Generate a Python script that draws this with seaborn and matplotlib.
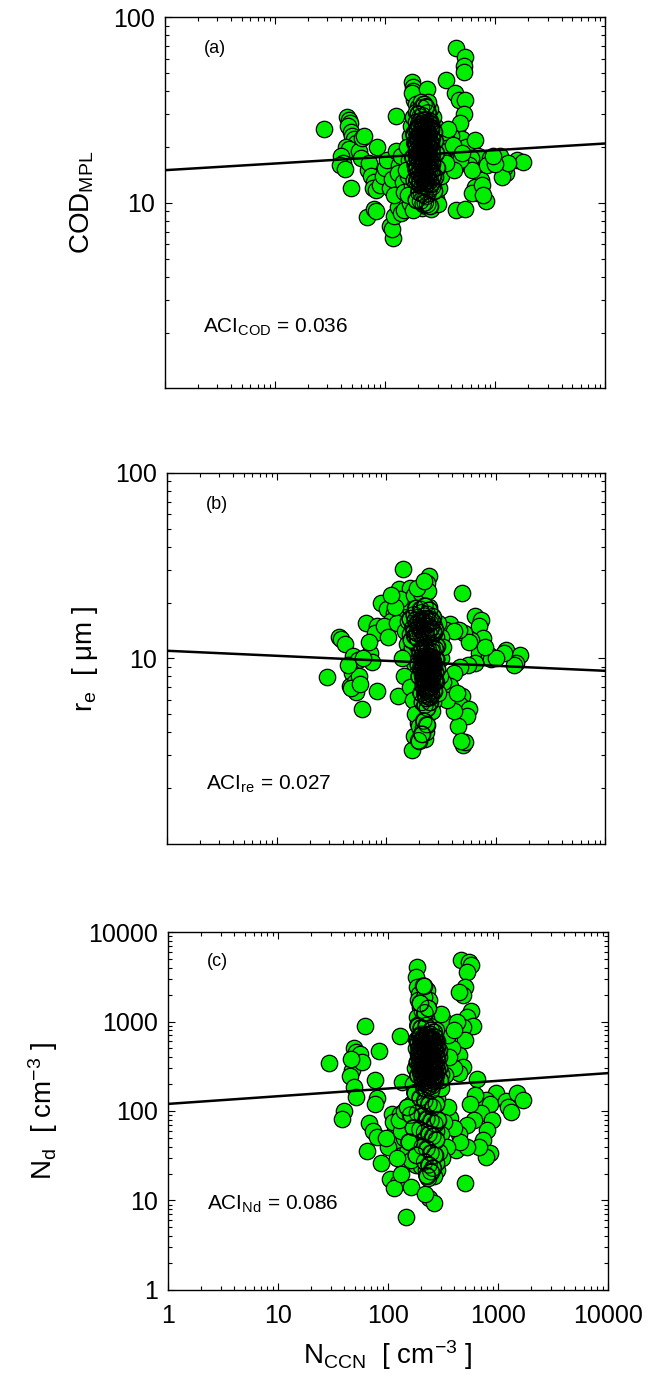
import numpy as np
import pandas as pd
import matplotlib
matplotlib.use("Agg")
import matplotlib.pyplot as plt
import matplotlib.ticker as mticker
import seaborn as sns

# (N_CCN, value) pairs
pts_cod = [
    (28, 25), (45, 29), (47, 28), (48, 27), (46, 26), (49, 24), (50, 23), (52, 22), (55, 21),
    (44, 20), (47, 19.5), (40, 18), (42, 16.5), (39, 16), (43, 15.3), (49, 12.1), (58, 19),
    (60, 17.5), (62, 22.5), (65, 23), (70, 15), (72, 16.5), (75, 14), (80, 13), (84, 20),
    (78, 12), (82, 11.8), (90, 12.5), (95, 14), (100, 15.5), (68, 8.4), (80, 9.3), (82, 9.0),
    (110, 7.5), (117, 6.5), (115, 7.2), (125, 29.5), (120, 8.5), (130, 9.5), (140, 8.8),
    (150, 9.2), (110, 12.0), (115, 13.5), (120, 11), (105, 17), (125, 19), (135, 16), (140, 18),
    (130, 14.5), (145, 13), (150, 11.5),
    (176, 45), (178, 42), (180, 40), (182, 38), (185, 36), (175, 39), (190, 34), (241, 41), (357, 46),
    (444, 68), (528, 61), (520, 55), (525, 51), (430, 39), (470, 36), (535, 36), (520, 30),
    (450, 25), (480, 27), (500, 22), (540, 20), (400, 23), (380, 21), (420, 19), (460, 17),
    (390, 16), (350, 15.5), (330, 18), (360, 20), (300, 24), (310, 22),
    (444, 9.1), (528, 9.3), (818, 10.2), (650, 21.7), (700, 17.8), (740, 13.3), (700, 11.3),
    (650, 12.2), (620, 11.3), (760, 12.5), (780, 11), (600, 17.5), (580, 16), (620, 15),
    (900, 17.5), (850, 16), (1110, 17.8), (1260, 14.4), (1580, 17.0), (1780, 16.7), (1200, 15.5),
    (1150, 13.8), (1300, 16.5), (1000, 16.3), (950, 18),
    (200, 33), (215, 31), (230, 30), (210, 28), (225, 27), (240, 28), (195, 26), (250, 25),
    (205, 24), (220, 24.5), (235, 23), (260, 23.5), (190, 22), (212, 22), (228, 21), (245, 21.5),
    (270, 22), (200, 20), (218, 19.5), (238, 20), (255, 19), (185, 19), (208, 18), (225, 18.5),
    (248, 17.5), (265, 18), (195, 17), (215, 16.5), (232, 16), (252, 16.2), (280, 16.5),
    (180, 15.5), (205, 15), (222, 14.5), (240, 15), (260, 14.2), (190, 13.8), (212, 13.2),
    (230, 13.5), (250, 12.8), (275, 13), (175, 12.5), (200, 12), (220, 11.8), (240, 11.5),
    (265, 11.2), (185, 11), (208, 10.6), (228, 10.4), (250, 10.2), (290, 10.5), (170, 10),
    (195, 9.8), (215, 9.4), (235, 9.6), (260, 9.3), (180, 9.2), (300, 9.8), (310, 12), (320, 14),
    (300, 17), (290, 20), (285, 26), (275, 29), (160, 14), (165, 17), (170, 20), (168, 23),
    (172, 26), (180, 29), (190, 31), (255, 32), (245, 35), (210, 35), (160, 11), (155, 15),
    (158, 20), (320, 19), (340, 24), (370, 25), (410, 20.5), (440, 16), (480, 17), (500, 18.5),
    (420, 15), (360, 16.5),
]
core_cod = [
    (205, 26), (215, 25), (225, 26), (235, 25.5), (245, 24), (198, 23), (210, 23.5), (222, 22.8),
    (232, 22), (242, 23), (252, 22.2), (202, 21.5), (214, 21), (226, 20.5), (236, 21.2),
    (248, 20.4), (206, 19.8), (216, 19), (228, 19.6), (240, 18.8), (250, 18.6), (198, 18.4),
    (212, 17.8), (222, 17.4), (234, 18), (244, 17.2), (256, 17.6), (204, 16.8), (218, 16.2),
    (228, 16.6), (238, 15.8), (248, 15.4), (260, 16), (196, 15.6), (210, 15.2), (220, 15.8),
    (232, 14.8), (244, 14.4), (254, 14.8), (200, 14.2), (214, 14), (226, 13.8), (236, 13),
    (246, 13.6), (258, 13.2), (206, 12.6), (218, 12.4), (230, 12.2), (242, 12.6), (252, 11.8),
    (202, 11.4), (214, 11.2), (226, 11), (236, 10.8), (246, 11.2), (210, 10.2), (222, 9.9),
    (232, 10.0), (244, 9.8), (256, 9.6), (190, 24.5), (186, 21), (192, 18), (188, 16), (194, 13),
    (262, 20.5), (268, 19.5), (272, 17), (266, 15), (270, 12.2), (208, 29), (220, 29.5),
    (232, 28), (244, 30.5), (214, 32.5), (226, 34), (236, 33), (200, 30.2), (255, 27.5),
    (262, 25.5), (278, 24), (284, 21.5), (290, 18.5), (296, 15.5), (286, 13.8), (280, 11.6),
    (192, 10.4), (184, 13.2), (178, 17.6), (182, 23.5),
    (193, 27.2), (201, 26.4), (209, 27.6), (217, 26.8), (227, 27.9), (239, 26.2), (249, 27.1),
    (259, 26.6), (195, 24.8), (203, 25.6), (211, 24.4), (219, 25.3), (229, 24.1), (241, 24.9),
    (251, 25.8), (263, 24.6), (197, 22.6), (205, 23.2), (213, 22.1), (221, 23.7), (231, 22.5),
    (243, 21.8), (253, 23.4), (265, 22.4), (191, 20.7), (199, 21.3), (207, 20.2), (219, 21.9),
    (229, 20.8), (239, 21.6), (251, 20.1), (261, 21.1), (193, 19.1), (203, 18.7), (211, 19.4),
    (223, 18.2), (233, 19.2), (245, 18.5), (255, 19.8), (267, 18.3), (195, 17.3), (205, 16.4),
    (215, 17.1), (225, 16.1), (235, 17.4), (247, 16.6), (257, 17.0), (269, 16.2), (191, 15.1),
    (201, 14.6), (209, 15.4), (219, 14.3), (231, 15.2), (241, 14.1), (251, 15.6), (263, 14.5),
    (197, 13.5), (207, 13.1), (217, 13.7), (229, 12.9), (239, 13.8), (249, 13.3), (261, 12.7),
    (271, 13.9),
]

pts_re = [
    (29, 7.9), (37.5, 13.0), (39, 12.7), (42, 12), (50, 10.3), (55, 9.8), (49, 8.4), (47, 7.1),
    (53, 6.6), (52, 7.5), (56, 8.0), (45, 9.2), (48, 6.9), (58, 7.3), (60, 5.35), (82, 6.7),
    (72, 10.7), (75, 9.6), (66, 15.6), (83, 14.9), (79, 13.8), (70, 12.3), (62, 10.0), (90, 20),
    (102, 18.5), (117, 17.6), (134, 18.8), (110, 16), (95, 15), (125, 15.5), (105, 13),
    (128, 6.3), (130, 23.6), (165, 24), (143, 30.5), (246, 27.9), (234, 25.6), (488, 22.4),
    (646, 17.0), (735, 16.2), (700, 14.9), (760, 12.9), (590, 12.5), (700, 10.7), (875, 10.4),
    (915, 9.96), (1245, 11.1), (1680, 10.5), (1540, 9.5), (1480, 9.2), (1190, 10.7), (518, 13.8),
    (568, 12.2), (380, 15.4), (460, 14.3), (350, 14.3), (420, 14.0), (300, 15.5), (320, 13),
    (1000, 10), (800, 11.5), (650, 9.5), (560, 9.2), (470, 9.0),
    (415, 8.4), (380, 7.1), (498, 6.3), (470, 5.6), (568, 5.35), (548, 4.9), (455, 4.3),
    (500, 3.4), (520, 3.55), (480, 3.6), (420, 5.2), (360, 6.0), (330, 7.5), (440, 6.5),
    (181, 3.8), (173, 3.2), (226, 3.7), (206, 4.0), (195, 4.5), (230, 4.8), (215, 5.2), (250, 5.5),
    (150, 14), (160, 16), (170, 18), (180, 19.5), (190, 17), (200, 20), (215, 18), (230, 16.5),
    (245, 19), (260, 17), (275, 15), (155, 12), (165, 13.5), (175, 15), (185, 14), (198, 15.5),
    (210, 13), (222, 14.5), (238, 13.5), (252, 14), (268, 12.5), (285, 13), (160, 10.5),
    (172, 11.5), (188, 12), (200, 11), (212, 11.8), (226, 10.8), (240, 11.5), (255, 10.5),
    (270, 11), (290, 10.2), (180, 9.5), (195, 9.8), (205, 9), (218, 9.5), (230, 8.8), (242, 9.2),
    (258, 8.5), (275, 9.0), (190, 8.2), (210, 8), (224, 7.8), (236, 8.2), (248, 7.6), (265, 7.8),
    (200, 7.2), (215, 7), (228, 6.8), (240, 7.1), (255, 6.6), (280, 7), (195, 6.3), (210, 6.0),
    (222, 6.2), (235, 5.9), (250, 6.1), (270, 5.8), (205, 5.5), (220, 5.3), (240, 5.0),
    (260, 5.2), (300, 6.5), (310, 8), (320, 10), (330, 11.5), (140, 10), (145, 8), (165, 7),
    (175, 6), (185, 5), (200, 4.3), (215, 4.2), (230, 4.0), (150, 20.5), (135, 21), (120, 19),
    (110, 22), (180, 22), (210, 22.5), (240, 23), (190, 24), (220, 26),
]
core_re = [
    (210, 10.2), (222, 10.0), (234, 10.4), (246, 9.9), (258, 10.1), (270, 9.7), (214, 9.6),
    (226, 9.4), (238, 9.7), (250, 9.3), (262, 9.5), (276, 9.2), (208, 9.0), (220, 8.9),
    (232, 9.1), (244, 8.7), (256, 8.9), (268, 8.6), (212, 8.5), (224, 8.3), (236, 8.6),
    (248, 8.2), (260, 8.4), (282, 8.3), (216, 7.9), (228, 7.7), (240, 8.0), (252, 7.6),
    (264, 7.9), (218, 7.4), (230, 7.2), (242, 7.5), (254, 7.1), (266, 7.3), (222, 6.9),
    (234, 6.7), (246, 7.0), (258, 6.6), (288, 9.9), (294, 8.8), (286, 7.5), (204, 10.8),
    (230, 11.2), (262, 11.4), (200, 8.0), (196, 9.3), (290, 11.6), (170, 12.6), (182, 13.2),
    (194, 12.8), (206, 13.6), (218, 12.9), (232, 13.3), (244, 12.7), (258, 13.1), (272, 13.7),
    (176, 14.6), (190, 15.2), (204, 14.4), (216, 15.6), (228, 14.9), (242, 15.3), (256, 14.6),
    (280, 14.3), (166, 16.4), (180, 17.2), (196, 16.6), (210, 17.6), (224, 16.9), (238, 17.3),
    (252, 16.3), (268, 16.8), (186, 18.6), (206, 18.4), (226, 19.2), (248, 18.2), (214, 5.8),
    (226, 5.6), (238, 5.4), (250, 5.8), (232, 6.3), (244, 6.2), (208, 6.5), (220, 4.6),
    (236, 4.4), (198, 3.6), (212, 3.9),
    (211, 11.3), (219, 10.7), (227, 11.5), (235, 10.9), (243, 11.2), (251, 10.6), (259, 11.0),
    (269, 10.8), (279, 11.3), (213, 10.0), (221, 9.7), (229, 10.1), (239, 9.5), (247, 10.3),
    (255, 9.6), (263, 10.2), (273, 9.4), (283, 9.9), (209, 8.8), (217, 9.2), (225, 8.6),
    (233, 9.3), (241, 8.9), (251, 9.1), (261, 8.7), (271, 9.2), (281, 8.5), (215, 8.1),
    (223, 7.6), (231, 8.3), (239, 7.8), (249, 8.4), (257, 7.7), (267, 8.1), (277, 7.6),
    (219, 7.1), (227, 7.3), (237, 6.8), (245, 7.4), (253, 6.9), (263, 7.0), (273, 6.7),
    (225, 6.4), (233, 6.1), (243, 6.5), (251, 6.2), (259, 6.4), (181, 14.1), (191, 13.7),
    (201, 14.9), (211, 14.1), (221, 13.4), (233, 14.2), (245, 13.9), (257, 14.4), (269, 14.0),
    (185, 16.1), (197, 15.8), (209, 16.2), (221, 15.9), (235, 16.4), (249, 15.7), (263, 15.9),
]

pts_nd = [
    (29, 345), (62, 885), (83, 466), (49, 500), (51, 460), (53, 400), (50, 345), (47, 290),
    (45, 245), (49, 186), (51, 145), (55, 430), (58, 350), (46, 380), (39.6, 100), (38, 81),
    (76, 220), (80, 140), (76, 120), (67, 74), (73, 59), (80, 51), (64, 36), (87, 26),
    (104, 17.6), (123, 15.6), (113, 13.7), (160, 14.3), (146, 6.6), (127, 684), (134, 210),
    (108, 93), (128, 93), (115, 60), (120, 45), (100, 40), (135, 32), (140, 25), (95, 50),
    (110, 75),
    (182, 4070), (180, 3150), (185, 2430), (190, 2050), (188, 1730), (195, 1460), (185, 1130),
    (226, 2230), (237, 1730), (210, 1900), (205, 1300),
    (237, 10.6), (260, 9.3), (218, 11.7), (497, 15.6),
    (456, 4830), (541, 4610), (565, 4230), (517, 3580), (497, 2430), (475, 1960), (437, 2140),
    (565, 1320), (517, 1110), (590, 890), (475, 870), (497, 620), (437, 420), (475, 310),
    (437, 265), (640, 225), (400, 300), (380, 500), (350, 700), (330, 1000), (300, 1200),
    (420, 1000), (400, 800), (360, 400), (330, 250),
    (957, 157), (769, 132), (735, 111), (838, 121), (700, 94), (875, 79), (800, 61), (735, 47),
    (838, 34), (769, 31), (670, 40), (1190, 130), (1240, 111), (1300, 98), (1480, 160),
    (1680, 132), (620, 150), (560, 120), (600, 80), (520, 70),
    (368, 84), (437, 56), (416, 37), (517, 40), (450, 45), (400, 65), (350, 110), (320, 75),
    (300, 55), (340, 40), (310, 30), (280, 22),
    (200, 1000), (220, 1100), (240, 900), (210, 800), (230, 750), (250, 700), (195, 650),
    (215, 620), (235, 600), (255, 560), (205, 530), (225, 500), (245, 480), (265, 450),
    (190, 440), (210, 420), (230, 400), (250, 390), (270, 370), (200, 350), (220, 340),
    (240, 320), (260, 310), (280, 300), (195, 290), (215, 280), (235, 270), (255, 260),
    (210, 240), (230, 230), (250, 220), (270, 210), (200, 200), (220, 190), (240, 180),
    (260, 170), (190, 160), (210, 150), (230, 140), (250, 130), (280, 140), (300, 180),
    (300, 260), (290, 400), (280, 600), (270, 800), (180, 500), (175, 300), (170, 200),
    (160, 120), (180, 110), (200, 100), (220, 95), (240, 90), (260, 85), (170, 80), (190, 75),
    (210, 70), (230, 68), (250, 65), (270, 60), (150, 70), (165, 55), (185, 50), (205, 48),
    (225, 45), (245, 42), (265, 40), (140, 50), (175, 38), (195, 35), (215, 32), (235, 30),
    (255, 28), (180, 25), (200, 24), (220, 22), (240, 20), (260, 19), (230, 18), (270, 26),
    (290, 35), (130, 60), (125, 80), (140, 100), (150, 35), (160, 28), (120, 30), (130, 20),
]
core_nd = [
    (200, 720), (214, 680), (228, 700), (242, 660), (256, 640), (206, 600), (220, 580),
    (234, 620), (248, 590), (262, 560), (196, 540), (210, 520), (224, 550), (238, 510),
    (252, 530), (268, 500), (202, 470), (216, 460), (230, 480), (244, 450), (258, 440),
    (190, 410), (206, 400), (220, 420), (234, 390), (248, 410), (262, 380), (276, 400),
    (198, 360), (212, 350), (226, 370), (240, 345), (254, 355), (268, 335), (204, 320),
    (218, 310), (232, 325), (246, 300), (260, 290), (274, 305), (196, 280), (210, 270),
    (224, 285), (238, 260), (252, 275), (266, 250), (202, 240), (216, 230), (230, 245),
    (244, 225), (258, 215), (208, 205), (222, 200), (236, 195), (250, 190), (186, 250),
    (184, 350), (182, 620), (292, 300), (296, 220), (290, 480), (186, 900), (200, 850),
    (222, 900), (246, 800), (260, 760), (216, 1250), (232, 1400), (196, 1600), (210, 2500),
    (175, 160), (195, 140), (215, 130), (235, 120), (255, 110), (275, 120), (185, 95),
    (205, 88), (225, 82), (245, 78), (265, 72), (285, 80), (195, 62), (215, 58), (235, 55),
    (255, 52), (275, 48), (205, 40), (225, 38), (245, 34), (265, 32), (215, 27), (235, 25),
    (255, 23), (245, 21), (225, 19), (160, 90), (150, 110), (170, 65), (155, 45), (180, 32),
    (193, 690), (205, 640), (217, 710), (229, 655), (241, 720), (253, 610), (265, 670),
    (187, 580), (199, 610), (211, 560), (223, 640), (235, 570), (247, 625), (259, 545),
    (271, 590), (191, 500), (203, 540), (215, 490), (227, 520), (239, 470), (251, 505),
    (263, 475), (277, 520), (189, 430), (201, 455), (213, 425), (225, 445), (237, 415),
    (249, 440), (261, 420), (273, 455), (193, 380), (205, 395), (217, 365), (229, 385),
    (241, 360), (253, 375), (265, 355), (279, 380), (191, 330), (203, 340), (215, 320),
    (227, 335), (239, 310), (251, 325), (263, 315), (275, 330), (195, 295), (207, 305),
    (219, 290), (231, 300), (243, 280), (255, 295), (267, 275), (281, 285), (199, 260),
    (211, 250), (223, 265), (235, 245), (247, 255), (259, 240), (271, 250), (205, 225),
    (217, 215), (229, 220), (241, 210), (253, 205), (265, 215), (211, 180), (223, 175),
    (235, 185), (247, 170),
]

# power-law fits: value = a * N_CCN ** b
fit_cod = (15.0, 0.036)
fit_re = (11.0, -0.027)
fit_nd = (120.0, 0.086)

panel_tags = ["(a)", "(b)", "(c)"]
aci_texts = [r"ACI$_{COD}$ = 0.036", r"ACI$_{re}$ = 0.027", r"ACI$_{Nd}$ = 0.086"]
ylabels = [r"COD$_{MPL}$", r"r$_{e}$  [ μm ]", r"N$_{d}$  [ cm$^{-3}$ ]"]
xlabel = r"N$_{CCN}$  [ cm$^{-3}$ ]"

sns.set_style("ticks")
plt.rcParams["font.family"] = ["Liberation Sans", "DejaVu Sans"]
plt.rcParams["mathtext.fontset"] = "custom"
plt.rcParams["mathtext.rm"] = "Liberation Sans"
plt.rcParams["mathtext.it"] = "Liberation Sans:italic"
plt.rcParams["mathtext.default"] = "regular"
for key in ["text.color", "axes.labelcolor", "xtick.color", "ytick.color", "axes.edgecolor"]:
    plt.rcParams[key] = "black"

fig = plt.figure(figsize=(6.54, 13.89), dpi=100)
boxes = [
    [0.2517, 0.7204, 0.674, 0.2671],
    [0.2554, 0.3924, 0.670, 0.2671],
    [0.2569, 0.0713, 0.673, 0.2577],
]
ylims = [(1.0, 100), (1.0, 100), (1, 10000)]
yticks = [[10, 100], [10, 100], [1, 10, 100, 1000, 10000]]
ylab_x = [-0.156, -0.153, -0.245]
aci_y = [0.149, 0.146, 0.223]
tag_y = [0.917, 0.914, 0.917]

panels = [(pts_cod, core_cod), (pts_re, core_re), (pts_nd, core_nd)]
fits = [fit_cod, fit_re, fit_nd]

for i, ((pts, core), fit) in enumerate(zip(panels, fits)):
    ax = fig.add_axes(boxes[i])
    df = pd.DataFrame(pts + core, columns=["nccn", "val"])
    dcore = pd.DataFrame(core, columns=["nccn", "val"])
    sns.scatterplot(data=df, x="nccn", y="val", ax=ax, s=140, color="#00ee00",
                    edgecolor="black", linewidth=0.9, zorder=2)
    # dense core: outlines pile up into a dark mass
    sns.scatterplot(data=dcore, x="nccn", y="val", ax=ax, s=140, facecolors="none",
                    edgecolor="black", linewidth=0.8, zorder=2.5)
    xf = np.array([1.0, 10000.0])
    sns.lineplot(x=xf, y=fit[0] * xf ** fit[1], ax=ax, color="black", lw=1.8, zorder=3)
    ax.set_xscale("log")
    ax.set_yscale("log")
    ax.set_xlim(1, 10000)
    ax.set_ylim(*ylims[i])
    ax.set_xticks([1, 10, 100, 1000, 10000])
    ax.set_yticks(yticks[i])
    fmt = mticker.FuncFormatter(lambda v, p: f"{v:g}")
    ax.xaxis.set_major_formatter(fmt)
    ax.yaxis.set_major_formatter(fmt)
    ax.xaxis.set_minor_formatter(mticker.NullFormatter())
    ax.yaxis.set_minor_formatter(mticker.NullFormatter())
    ax.tick_params(which="both", direction="in", top=True, right=True, width=0.8,
                   labelsize=18)
    ax.tick_params(which="major", length=5)
    ax.tick_params(which="minor", length=3)
    ax.tick_params(axis="y", pad=7)
    ax.tick_params(axis="x", pad=10)
    for sp in ax.spines.values():
        sp.set_linewidth(1.0)
    ax.set_ylabel(ylabels[i], fontsize=20)
    ax.yaxis.set_label_coords(ylab_x[i], 0.5)
    if i < 2:
        ax.tick_params(labelbottom=False)
        ax.set_xlabel("")
    else:
        ax.set_xlabel(xlabel, fontsize=20)
        ax.xaxis.set_label_coords(0.5, -0.135)
    ax.text(0.089, tag_y[i], panel_tags[i], transform=ax.transAxes, fontsize=13,
            ha="left", va="center")
    ax.text(0.088, aci_y[i], aci_texts[i], transform=ax.transAxes, fontsize=15,
            ha="left", va="baseline")

fig.savefig("out.png", dpi=100)
